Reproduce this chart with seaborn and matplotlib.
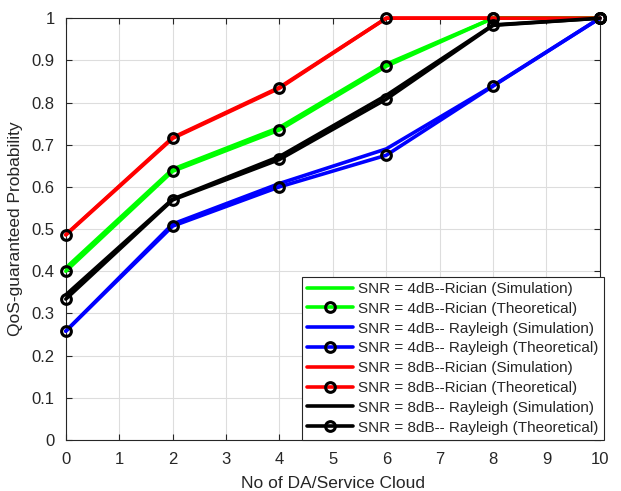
import matplotlib
matplotlib.use("Agg")
import matplotlib.pyplot as plt
import seaborn as sns
import pandas as pd

x_vals = [0, 2, 4, 6, 8, 10]

rician4_sim = [0.408, 0.642, 0.741, 0.891, 1.0, 1.0]
rician4_theo = [0.400, 0.637, 0.735, 0.886, 1.0, 1.0]
rayleigh4_sim = [0.258, 0.512, 0.608, 0.690, 0.840, 1.0]
rayleigh4_theo = [0.258, 0.507, 0.600, 0.675, 0.839, 1.0]
rician8_sim = [0.487, 0.717, 0.836, 1.0, 1.0, 1.0]
rician8_theo = [0.486, 0.715, 0.834, 1.0, 1.0, 1.0]
rayleigh8_sim = [0.344, 0.571, 0.672, 0.817, 0.984, 1.0]
rayleigh8_theo = [0.334, 0.569, 0.665, 0.808, 0.983, 1.0]

labels = [
    "SNR = 4dB--Rician (Simulation)",
    "SNR = 4dB--Rician (Theoretical)",
    "SNR = 4dB-- Rayleigh (Simulation)",
    "SNR = 4dB-- Rayleigh (Theoretical)",
    "SNR = 8dB--Rician (Simulation)",
    "SNR = 8dB--Rician (Theoretical)",
    "SNR = 8dB-- Rayleigh (Simulation)",
    "SNR = 8dB-- Rayleigh (Theoretical)",
]
series = [rician4_sim, rician4_theo, rayleigh4_sim, rayleigh4_theo,
          rician8_sim, rician8_theo, rayleigh8_sim, rayleigh8_theo]
colors = ["#00ff00", "#00ff00", "#0000ff", "#0000ff",
          "#ff0000", "#ff0000", "#000000", "#000000"]
x_ticks = list(range(0, 11))
y_ticks = [round(i * 0.1, 1) for i in range(11)]
y_ticklabels = ["0", "0.1", "0.2", "0.3", "0.4", "0.5", "0.6", "0.7", "0.8", "0.9", "1"]

sns.set_style("white")
plt.rcParams["font.family"] = ["Liberation Sans", "DejaVu Sans"]

fig = plt.figure(figsize=(6.21, 4.91), dpi=100)
ax = fig.add_axes([0.106, 0.104, 0.860, 0.859])

for i, (lab, ys, c) in enumerate(zip(labels, series, colors)):
    df = pd.DataFrame({"x": x_vals, "y": ys})
    theo = i % 2 == 1
    sns.lineplot(data=df, x="x", y="y", ax=ax, color=c, linewidth=2.6,
                 label=lab,
                 marker="o" if theo else None,
                 markersize=7, markerfacecolor="none",
                 markeredgecolor="k", markeredgewidth=2.2,
                 zorder=3 if theo else 2, clip_on=False)

ax.set_xlim(0, 10)
ax.set_ylim(0, 1)
ax.set_xticks(x_ticks)
ax.set_yticks(y_ticks)
ax.set_yticklabels(y_ticklabels)
ax.grid(True, color="#dddddd", linewidth=0.8)
ax.tick_params(direction="in", length=4, labelsize=12, colors="#262626",
               top=True, right=True, bottom=True, left=True)
ax.tick_params(axis="x", pad=9)
ax.tick_params(axis="y", pad=8)
for s in ax.spines.values():
    s.set_color("#262626")
    s.set_linewidth(0.8)
    s.set_zorder(1)
ax.set_xlabel("No of DA/Service Cloud", fontsize=12.5, color="#262626", labelpad=6)
ax.set_ylabel("QoS-guaranteed Probability", fontsize=12.5, color="#262626", labelpad=6)

leg = ax.legend(loc="lower right", bbox_to_anchor=(1.007, 0.0), fontsize=11,
                frameon=True, fancybox=False, edgecolor="#262626",
                borderpad=0.35, labelspacing=0.38, handlelength=3.0,
                handletextpad=0.3, borderaxespad=0.0)
leg.get_frame().set_linewidth(0.8)
leg.get_frame().set_alpha(1)
leg.set_zorder(5)

fig.savefig("out.png", dpi=100)
